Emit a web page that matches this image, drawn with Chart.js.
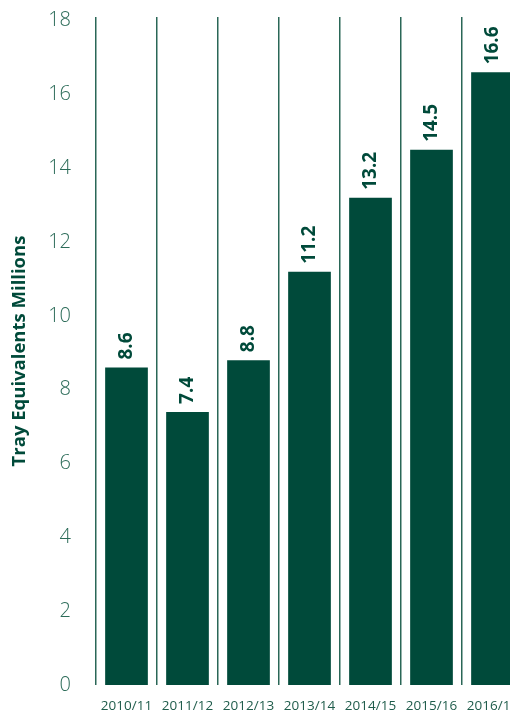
<!DOCTYPE html>
<html>
<head>
<meta charset="utf-8">
<script src="https://cdn.jsdelivr.net/npm/chart.js@4"></script>
<style>
  html, body { margin: 0; padding: 0; background: #fff; overflow: hidden; }
  #wrap { width: 525px; height: 711px; }
</style>
</head>
<body>
<div id="wrap"><canvas id="chart" width="525" height="711"></canvas></div>
<script>
const seasons = ['2010/11', '2011/12', '2012/13', '2013/14', '2014/15', '2015/16', '2016/17'];
const trays = [8.6, 7.4, 8.8, 11.2, 13.2, 14.5, 16.6];
const yTicks = [0, 2, 4, 6, 8, 10, 12, 14, 16, 18];

const green = '#004a3a';
const lineGreen = '#2a6757';

const valueLabels = {
    id: 'valueLabels',
    afterDatasetsDraw(chart) {
        const ctx = chart.ctx;
        const meta = chart.getDatasetMeta(0);
        ctx.save();
        ctx.fillStyle = green;
        ctx.font = 'bold 19px "Open Sans"';
        ctx.textAlign = 'left';
        ctx.textBaseline = 'middle';
        meta.data.forEach((bar, i) => {
            ctx.save();
            ctx.translate(bar.x, bar.y - 8);
            ctx.rotate(-Math.PI / 2);
            ctx.fillText(trays[i].toFixed(1), 0, 0);
            ctx.restore();
        });
        ctx.restore();
    }
};

new Chart(document.getElementById('chart'), {
    type: 'bar',
    data: {
        labels: seasons,
        datasets: [{
            data: trays,
            backgroundColor: green,
            barPercentage: 0.7,
            categoryPercentage: 1
        }]
    },
    options: {
        responsive: false,
        devicePixelRatio: 1,
        animation: false,
        layout: { padding: { top: 17, right: 2, bottom: 0, left: 0 } },
        plugins: {
            legend: { display: false },
            tooltip: { enabled: false }
        },
        scales: {
            x: {
                grid: { display: true, offset: true, color: lineGreen, lineWidth: 1.5, drawTicks: false },
                border: { display: false },
                ticks: {
                    color: '#1f5c4b',
                    font: { family: 'Open Sans', size: 13.5 },
                    padding: 13,
                    maxRotation: 0,
                    autoSkip: false
                },
                afterFit(scale) {
                    scale.height = 26;
                    scale.paddingLeft = 0;
                    scale.paddingRight = 0;
                }
            },
            y: {
                min: 0,
                max: 18.1,
                grid: { display: false },
                border: { display: false },
                afterBuildTicks(axis) { axis.ticks = yTicks.map(v => ({ value: v })); },
                ticks: {
                    color: '#2b6b58',
                    font: { family: 'Open Sans', size: 20, weight: 300 },
                    padding: 17
                },
                title: {
                    display: true,
                    text: 'Tray Equivalents Millions',
                    color: green,
                    font: { family: 'Open Sans', size: 18.5, weight: 'bold' },
                    padding: { top: 9, bottom: 0 }
                },
                afterFit(scale) {
                    scale.width = 96;
                    scale.paddingTop = 0;
                    scale.paddingBottom = 0;
                }
            }
        }
    },
    plugins: [valueLabels]
});
</script>
</body>
</html>
